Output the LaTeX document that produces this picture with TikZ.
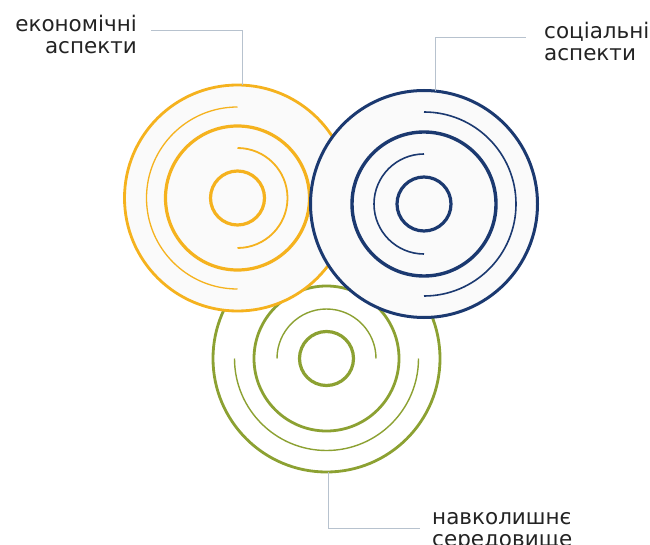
\documentclass[tikz,border=0pt]{standalone}
\usepackage{fontspec}
\setmainfont{DejaVu Sans}
\usetikzlibrary{positioning, calc}
\definecolor{ecoorange}{RGB}{245,178,30}
\definecolor{socblue}{RGB}{27,57,112}
\definecolor{envgreen}{RGB}{140,161,50}
\definecolor{leadergray}{RGB}{183,194,206}
\definecolor{labeltext}{RGB}{35,35,35}

\begin{document}
\begin{tikzpicture}[x=1pt, y=-1pt,
    leader/.style={leadergray, line width=1pt},
    lbl/.style={font=\fontsize{21.5}{22}\selectfont, text=labeltext, inner sep=0pt}]
    \useasboundingbox (0,0) rectangle (650,545);

    % Centres
    \coordinate (env) at (326.5,358.5);
    \coordinate (eco) at (237.5,198);
    \coordinate (soc) at (424,204);

    % Environment (green, lowest)
    \draw[envgreen, line width=2.8pt, fill=white] (env) circle (113.5);
    \draw[envgreen, line width=2.8pt] (env) circle (72.5);
    \draw[envgreen, line width=3.2pt] (env) circle (27);
    \draw[envgreen, line width=1.4pt] ($(env)+(-49.5,0)$) arc (180:360:49.5);
    \draw[envgreen, line width=1.4pt] ($(env)+(92,0)$) arc (0:180:92);

    % Economic (orange)
    \draw[ecoorange, line width=2.8pt, fill=black!2] (eco) circle (113);
    \draw[ecoorange, line width=3.2pt] (eco) circle (72);
    \draw[ecoorange, line width=3.2pt] (eco) circle (27);
    \draw[ecoorange, line width=1.8pt] ($(eco)+(0,-50)$) arc (-90:90:50);
    \draw[ecoorange, line width=1.3pt] ($(eco)+(0,-91)$) arc (270:90:91);

    % Social (blue, on top)
    \draw[socblue, line width=3pt, fill=black!2] (soc) circle (113.5);
    \draw[socblue, line width=3.4pt] (soc) circle (72);
    \draw[socblue, line width=3.2pt] (soc) circle (27);
    \draw[socblue, line width=1.6pt] ($(soc)+(0,-50)$) arc (270:90:50);
    \draw[socblue, line width=1.6pt] ($(soc)+(0,-92)$) arc (-90:90:92);

    % Labels (base = last line)
    \node[lbl, anchor=base east, align=right] (ecolabel) at (137,54) {економічні\\аспекти};
    \node[lbl, anchor=base west, align=left] (soclabel) at (544,61) {соціальні\\аспекти};
    \node[lbl, anchor=base west, align=left] (envlabel) at (432,546) {навколишнє\\середовище};

    % Leader lines
    \coordinate (ecotop) at (242,85);
    \coordinate (ecoend) at (151,31);
    \coordinate (soctop) at (435,91);
    \coordinate (socend) at (526,38);
    \coordinate (envbot) at (328,472);
    \coordinate (envend) at (420,528);
    \draw[leader] (ecotop) |- (ecoend);
    \draw[leader] (soctop) |- (socend);
    \draw[leader] (envbot) |- (envend);
\end{tikzpicture}
\end{document}
